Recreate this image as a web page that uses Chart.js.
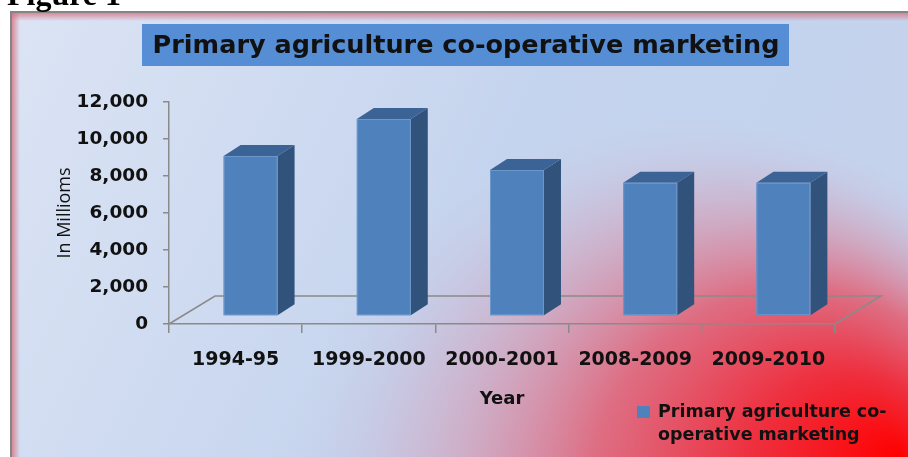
<!DOCTYPE html>
<html>
<head>
<meta charset="utf-8">
<script src="https://cdn.jsdelivr.net/npm/chart.js@4.4.0/dist/chart.umd.min.js"></script>
<style>
  html, body { margin: 0; padding: 0; background: #fff; overflow: hidden; }
  #wrap { width: 908px; height: 457px; position: relative; }
</style>
</head>
<body>
<div id="wrap"><canvas id="myChart" width="908" height="457"></canvas></div>
<script>
// chart data
const years = ["1994-95", "1999-2000", "2000-2001", "2008-2009", "2009-2010"];
const marketing = [8650, 10650, 7890, 7200, 7200];
const yTicks = [0, 2000, 4000, 6000, 8000, 10000, 12000];
const chartTitle = "Primary agriculture co-operative marketing";
const seriesName = "Primary agriculture co-operative marketing";
const legendLines = ["Primary agriculture co-", "operative marketing"];
const figureLabel = "Figure 1";

// 3d look
const FRONT_DX = 15, FRONT_DY = 8;   // bar front face pushed into the floor
const DEPTH_DX = 17, DEPTH_DY = 11;  // bar depth
const FLOOR_DX = 46, FLOOR_DY = 28;  // floor depth
const AXIS_GREY = "#8a8a8a";

const backgroundPlugin = {
  id: "panel",
  beforeDraw(chart) {
    const ctx = chart.ctx;
    const W = chart.width, H = chart.height;
    ctx.save();
    ctx.fillStyle = "#fff";
    ctx.fillRect(0, 0, W, H);

    // blue panel
    const g = ctx.createLinearGradient(11, 12, W, H);
    g.addColorStop(0, "#dce4f4");
    g.addColorStop(0.5, "#c5d4ee");
    g.addColorStop(1, "#c4d2ec");
    ctx.fillStyle = g;
    ctx.fillRect(11, 12, W - 11, H - 12);

    // red glow bottom right
    const r = ctx.createRadialGradient(900, 455, 0, 690, 530, 410);
    r.addColorStop(0, "rgba(255,0,0,1)");
    r.addColorStop(0.25, "rgba(240,40,55,0.95)");
    r.addColorStop(0.5, "rgba(228,85,105,0.8)");
    r.addColorStop(0.75, "rgba(215,140,165,0.42)");
    r.addColorStop(0.9, "rgba(208,160,190,0.12)");
    r.addColorStop(1, "rgba(205,170,200,0)");
    ctx.fillStyle = r;
    ctx.fillRect(11, 12, W - 11, H - 12);

    // soft pink edges
    const te = ctx.createLinearGradient(0, 12, 0, 21);
    te.addColorStop(0, "rgba(215,110,125,0.85)");
    te.addColorStop(1, "rgba(215,110,125,0)");
    ctx.fillStyle = te;
    ctx.fillRect(11, 12, W - 11, 9);
    const le = ctx.createLinearGradient(11, 0, 20, 0);
    le.addColorStop(0, "rgba(215,110,125,0.85)");
    le.addColorStop(1, "rgba(215,110,125,0)");
    ctx.fillStyle = le;
    ctx.fillRect(11, 12, 9, H - 12);

    // frame
    ctx.strokeStyle = "#858585";
    ctx.lineWidth = 2;
    ctx.beginPath();
    ctx.moveTo(11, H);
    ctx.lineTo(11, 12);
    ctx.lineTo(W, 12);
    ctx.stroke();

    // figure caption, cut at the top
    ctx.fillStyle = "#000";
    ctx.font = "bold 32px 'Liberation Serif'";
    ctx.textBaseline = "alphabetic";
    ctx.textAlign = "left";
    ctx.fillText(figureLabel, 7, 5);

    // title box
    ctx.fillStyle = "#558ed5";
    ctx.fillRect(142, 24, 647, 42);
    ctx.fillStyle = "#111";
    ctx.font = "bold 25.5px 'DejaVu Sans'";
    ctx.textAlign = "center";
    ctx.textBaseline = "middle";
    ctx.fillText(chartTitle, 466, 46);
    ctx.restore();
  },
  beforeDatasetsDraw(chart) {
    // floor
    const ctx = chart.ctx;
    const xs = chart.scales.x, ys = chart.scales.y;
    const y0 = ys.getPixelForValue(0);
    ctx.save();
    ctx.strokeStyle = AXIS_GREY;
    ctx.lineWidth = 1.5;
    ctx.beginPath();
    ctx.moveTo(xs.left, y0);
    ctx.lineTo(xs.left + FLOOR_DX, y0 - FLOOR_DY);
    ctx.lineTo(xs.right + FLOOR_DX, y0 - FLOOR_DY);
    ctx.lineTo(xs.right, y0);
    ctx.stroke();
    ctx.restore();
  },
  afterDatasetsDraw(chart) {
    const ctx = chart.ctx;
    const meta = chart.getDatasetMeta(0);
    ctx.save();
    meta.data.forEach((bar) => {
      const { x, y, base, width } = bar.getProps(["x", "y", "base", "width"], true);
      const l = x - width / 2 + FRONT_DX;
      const r = l + width;
      const t = y - FRONT_DY;
      const b = base - FRONT_DY;
      // side
      ctx.fillStyle = "#30527b";
      ctx.beginPath();
      ctx.moveTo(r, t);
      ctx.lineTo(r + DEPTH_DX, t - DEPTH_DY);
      ctx.lineTo(r + DEPTH_DX, b - DEPTH_DY);
      ctx.lineTo(r, b);
      ctx.closePath();
      ctx.fill();
      // top
      ctx.fillStyle = "#3b6395";
      ctx.beginPath();
      ctx.moveTo(l, t);
      ctx.lineTo(l + DEPTH_DX, t - DEPTH_DY);
      ctx.lineTo(r + DEPTH_DX, t - DEPTH_DY);
      ctx.lineTo(r, t);
      ctx.closePath();
      ctx.fill();
      // front
      ctx.fillStyle = "#4f81bd";
      ctx.fillRect(l, t, width, b - t);
      ctx.strokeStyle = "#6d98cc";
      ctx.lineWidth = 1;
      ctx.strokeRect(l + 0.5, t + 0.5, width - 1, b - t - 1);
    });
    ctx.restore();
  },
  afterDraw(chart) {
    // legend
    const ctx = chart.ctx;
    ctx.save();
    ctx.fillStyle = chart.data.datasets[0].borderColor;
    ctx.fillRect(637, 406, 13, 12);
    ctx.fillStyle = "#111";
    ctx.font = "bold 17.5px 'DejaVu Sans'";
    ctx.textAlign = "left";
    ctx.textBaseline = "middle";
    ctx.fillText(legendLines[0], 658, 412);
    ctx.fillText(legendLines[1], 658, 435);
    ctx.restore();
  }
};

const ctx = document.getElementById("myChart").getContext("2d");
new Chart(ctx, {
  type: "bar",
  data: {
    labels: years,
    datasets: [{
      label: seriesName,
      data: marketing,
      backgroundColor: "rgba(0,0,0,0)",
      borderColor: "#4f81bd",
      borderWidth: 0,
      categoryPercentage: 1,
      barPercentage: 0.405
    }]
  },
  options: {
    responsive: false,
    animation: false,
    layout: { padding: { top: 102, right: 73, bottom: 0, left: 0 } },
    plugins: {
      legend: { display: false },
      title: { display: false },
      tooltip: { enabled: false }
    },
    scales: {
      x: {
        afterFit(scale) { scale.height = 133; },
        grid: { drawOnChartArea: false, drawTicks: true, tickLength: 9, color: AXIS_GREY, lineWidth: 1.5 },
        border: { display: true, color: AXIS_GREY, width: 1.5 },
        ticks: { color: "#111", padding: 16, font: { family: "DejaVu Sans", weight: "bold", size: 19 } },
        title: {
          display: true, text: "Year", color: "#111",
          font: { family: "DejaVu Sans", weight: "bold", size: 18 },
          padding: { top: 0, bottom: 47 }
        }
      },
      y: {
        min: 0,
        max: 12000,
        afterFit(scale) { scale.width = 169; },
        afterBuildTicks(scale) { scale.ticks = yTicks.map((v) => ({ value: v })); },
        grid: { drawOnChartArea: false, drawTicks: true, tickLength: 6, color: AXIS_GREY, lineWidth: 1.5 },
        border: { display: true, color: AXIS_GREY, width: 1.5 },
        ticks: {
          color: "#111", padding: 15,
          font: { family: "DejaVu Sans", weight: "bold", size: 18.5 },
          callback: (v) => v.toLocaleString("en-US")
        },
        title: {
          display: true, text: "In Millioms", color: "#111",
          font: { family: "Open Sans", size: 18 },
          padding: { top: 54, bottom: 0 }
        }
      }
    }
  },
  plugins: [backgroundPlugin]
});
</script>
</body>
</html>
